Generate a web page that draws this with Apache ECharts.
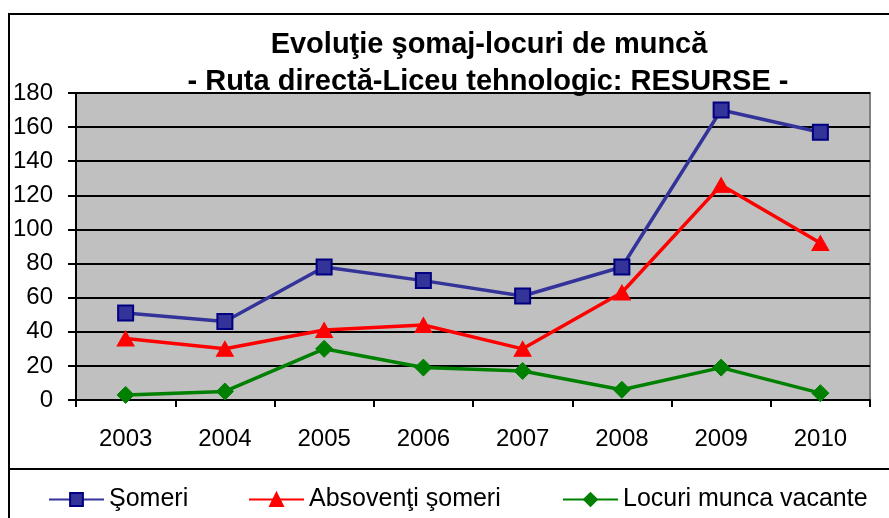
<!DOCTYPE html>
<html>
<head>
<meta charset="utf-8">
<script src="https://cdn.jsdelivr.net/npm/echarts@6/dist/echarts.min.js"></script>
<style>
  html, body { margin: 0; padding: 0; background: #fff; }
  #chart { width: 889px; height: 518px; }
</style>
</head>
<body>
<div id="chart"></div>
<script>
const years = ['2003', '2004', '2005', '2006', '2007', '2008', '2009', '2010']
const someri = [51, 46, 78, 70, 61, 78, 170, 157]
const absolventi = [36, 30, 41, 44, 30, 63, 126, 92]
const locuri = [3, 5, 30, 19, 17, 6, 19, 4]
const yTicks = { min: 0, max: 180, step: 20 }

const font = 'Liberation Sans, Arial, sans-serif'

const legendBase = {
  top: 482,
  itemWidth: 55,
  itemHeight: 16,
  itemGap: 8,
  textStyle: { fontFamily: font, fontSize: 25, color: '#000' }
}

const option = {
  animation: false,
  backgroundColor: '#fff',
  title: [
    {
      text: 'Evoluţie şomaj-locuri de muncă',
      left: 484, top: 25, textAlign: 'center',
      textStyle: { fontFamily: font, fontSize: 29, fontWeight: 'bold', color: '#000' }
    },
    {
      text: '- Ruta directă-Liceu tehnologic: RESURSE -',
      left: 483, top: 62, textAlign: 'center',
      textStyle: { fontFamily: font, fontSize: 29, fontWeight: 'bold', color: '#000' }
    }
  ],
  graphic: [
    // chart frame
    { type: 'rect', z: -1, shape: { x: 9, y: 14, width: 900, height: 520 },
      style: { fill: 'none', stroke: '#000', lineWidth: 2 } },
    // legend box
    { type: 'rect', z: -1, shape: { x: 9, y: 469, width: 900, height: 80 },
      style: { fill: 'none', stroke: '#000', lineWidth: 2 } }
  ],
  legend: [
    Object.assign({}, legendBase, { left: 43, data: ['Şomeri'] }),
    Object.assign({}, legendBase, { left: 243, data: ['Absovenţi şomeri'] }),
    Object.assign({}, legendBase, { left: 557, data: ['Locuri munca vacante'] })
  ],
  grid: {
    left: 76, top: 93, right: 19, bottom: 118,
    show: true,
    backgroundColor: '#C0C0C0',
    borderColor: '#808080',
    borderWidth: 2
  },
  xAxis: {
    type: 'category',
    data: years,
    boundaryGap: true,
    axisLine: { lineStyle: { color: '#000', width: 2 } },
    axisTick: { show: true, length: 7, lineStyle: { color: '#000', width: 2 } },
    axisLabel: { margin: 27, fontFamily: font, fontSize: 24, color: '#000' },
    splitLine: { show: false }
  },
  yAxis: {
    type: 'value',
    min: yTicks.min, max: yTicks.max, interval: yTicks.step,
    axisLine: { show: true, lineStyle: { color: '#000', width: 2 } },
    axisTick: { show: true, length: 8, lineStyle: { color: '#000', width: 2 } },
    axisLabel: { margin: 23, fontFamily: font, fontSize: 24, color: '#000' },
    splitLine: { show: true, lineStyle: { color: '#000', width: 2 } }
  },
  series: [
    {
      name: 'Şomeri', type: 'line', data: someri,
      symbol: 'rect', symbolSize: 15,
      lineStyle: { color: '#333399', width: 3.5 },
      itemStyle: { color: '#333399', borderColor: '#000080', borderWidth: 2 }
    },
    {
      name: 'Absovenţi şomeri', type: 'line', data: absolventi,
      symbol: 'triangle', symbolSize: [17, 15],
      lineStyle: { color: '#FF0000', width: 3.5 },
      itemStyle: { color: '#FF0000', borderColor: '#FF0000', borderWidth: 1 }
    },
    {
      name: 'Locuri munca vacante', type: 'line', data: locuri,
      symbol: 'diamond', symbolSize: [17, 17],
      lineStyle: { color: '#008000', width: 3.5 },
      itemStyle: { color: '#008000', borderColor: '#008000', borderWidth: 1 }
    }
  ]
}

const chart = echarts.init(document.getElementById('chart'))
chart.setOption(option)
</script>
</body>
</html>
